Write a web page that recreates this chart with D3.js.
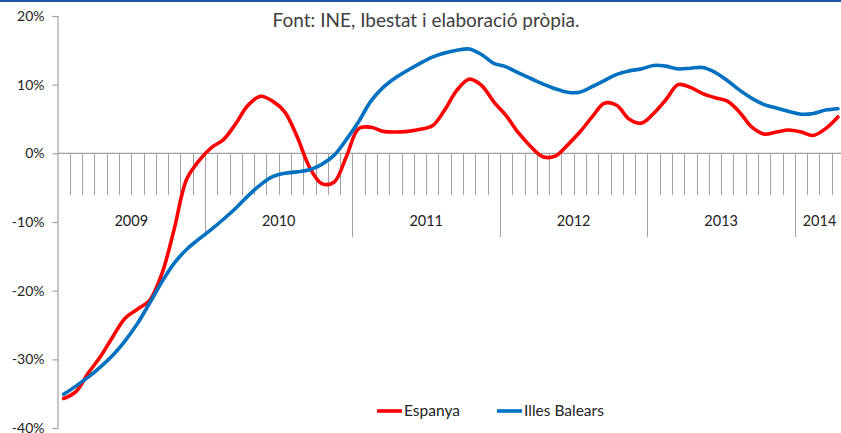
<!DOCTYPE html>
<html><head><meta charset="utf-8">
<script src="https://cdn.jsdelivr.net/npm/d3@7"></script>
<style>body{margin:0;background:#fff;}svg{display:block;}</style>
</head><body>
<svg id="c" width="841" height="433"></svg>
<script>
const title = "Font: INE, Ibestat i elaboració pròpia.";
const years = ["2009","2010","2011","2012","2013","2014"];
const monthsInYear = [12,12,12,12,12,4];
const yTicks = [-40,-30,-20,-10,0,10,20];
const seriesNames = ["Espanya","Illes Balears"];
const espanya = [
 -35.7,-34.7,-32.0,-29.6,-26.7,-24.0,-22.7,-21.4,-17.5,-11.0,-3.8,-1.1,
 0.8,2.0,4.3,7.0,8.3,7.6,6.0,2.4,-2.0,-4.4,-4.2,-0.5,
 3.6,3.8,3.2,3.1,3.2,3.5,4.0,6.3,9.2,10.8,9.9,7.5,
 5.5,3.0,1.0,-0.5,-0.4,1.2,3.1,5.3,7.3,7.0,5.0,4.4,
 5.8,7.8,10.0,9.6,8.7,8.1,7.6,6.0,3.8,2.8,3.1,3.4,
 3.1,2.6,3.6,5.3];
const balears = [
 -35.1,-33.9,-32.6,-31.1,-29.4,-27.3,-24.8,-21.8,-18.7,-16.0,-14.0,-12.5,
 -11.1,-9.6,-8.0,-6.2,-4.6,-3.4,-2.9,-2.7,-2.4,-1.6,-0.3,2.0,
 4.6,7.6,9.6,11.0,12.1,13.1,14.0,14.6,15.0,15.2,14.4,13.1,
 12.6,11.7,10.9,10.1,9.4,8.9,8.9,9.7,10.6,11.5,12.0,12.3,
 12.8,12.7,12.3,12.4,12.5,11.8,10.6,9.2,8.0,7.1,6.6,6.1,
 5.7,5.8,6.3,6.5];
const colors = ["#ff0000","#0070c0"];

const categories = years.flatMap((y,i)=>d3.range(monthsInYear[i]).map(m=>y+"-"+String(m+1).padStart(2,"0")));

const svg = d3.select("#c");
const left = 57.5, monthW = 12.29;
const x = d3.scaleBand().domain(categories).range([left, left + categories.length*monthW]).padding(0);
const y = d3.scaleLinear().domain([-40,20]).range([428,16]);
const axisColor = "#a0a0a0";
const labelFont = "Lato, 'Open Sans', sans-serif";

// top border
svg.append("rect").attr("x",0).attr("y",0).attr("width",841).attr("height",2).attr("fill","#1f5aa6");

// title
svg.append("text").attr("x",426).attr("y",27).attr("text-anchor","middle")
  .attr("font-family",labelFont).attr("font-size",19).attr("fill","#404040").text(title);

// y axis
const yAxis = d3.axisLeft(y).tickValues(yTicks).tickFormat(d=>d+"%").tickSize(5).tickPadding(8);
const gy = svg.append("g").attr("transform",`translate(${left},0)`).call(yAxis);
gy.select(".domain").attr("stroke",axisColor).attr("stroke-width",1.2);
gy.selectAll(".tick line").attr("stroke",axisColor).attr("stroke-width",1.2);
gy.selectAll(".tick text").attr("font-family",labelFont).attr("font-size",14).attr("fill","#222");

// x axis at 0
const xEnd = left + categories.length*monthW;
const gx = svg.append("g");
gx.append("line").attr("x1",left).attr("x2",xEnd).attr("y1",y(0)).attr("y2",y(0))
  .attr("stroke",axisColor).attr("stroke-width",1.2);
// month ticks
gx.selectAll("line.m").data(categories.slice(1)).join("line").attr("class","m")
  .attr("x1",d=>Math.round(x(d))+0.5).attr("x2",d=>Math.round(x(d))+0.5)
  .attr("y1",y(0)).attr("y2",d=>d.endsWith("-01")? 237 : 195)
  .attr("stroke",axisColor).attr("stroke-width",1);
// year labels
let idx = 0;
years.forEach((yr,i)=>{
  const x0 = x(categories[idx]);
  const x1 = idx+monthsInYear[i] < categories.length ? x(categories[idx+monthsInYear[i]]) : xEnd;
  gx.append("text").attr("x",(x0+x1)/2).attr("y",226).attr("text-anchor","middle")
    .attr("font-family",labelFont).attr("font-size",14.5).attr("fill","#222").text(yr);
  idx += monthsInYear[i];
});

// lines
const line = d3.line().x((d,i)=>x(categories[i])+x.bandwidth()/2).y(d=>y(d)).curve(d3.curveCatmullRom.alpha(0.5));
[espanya,balears].forEach((s,i)=>{
  svg.append("path").datum(s).attr("d",line).attr("fill","none")
    .attr("stroke",colors[i]).attr("stroke-width",3.6).attr("stroke-linejoin","round").attr("stroke-linecap","round");
});

// legend
const legX = [377,497];
seriesNames.forEach((n,i)=>{
  svg.append("line").attr("x1",legX[i]).attr("x2",legX[i]+25).attr("y1",411).attr("y2",411)
    .attr("stroke",colors[i]).attr("stroke-width",3.6);
  svg.append("text").attr("x",legX[i]+27).attr("y",416).attr("font-family",labelFont)
    .attr("font-size",15.5).attr("fill","#222").text(n);
});
</script>
</body></html>
